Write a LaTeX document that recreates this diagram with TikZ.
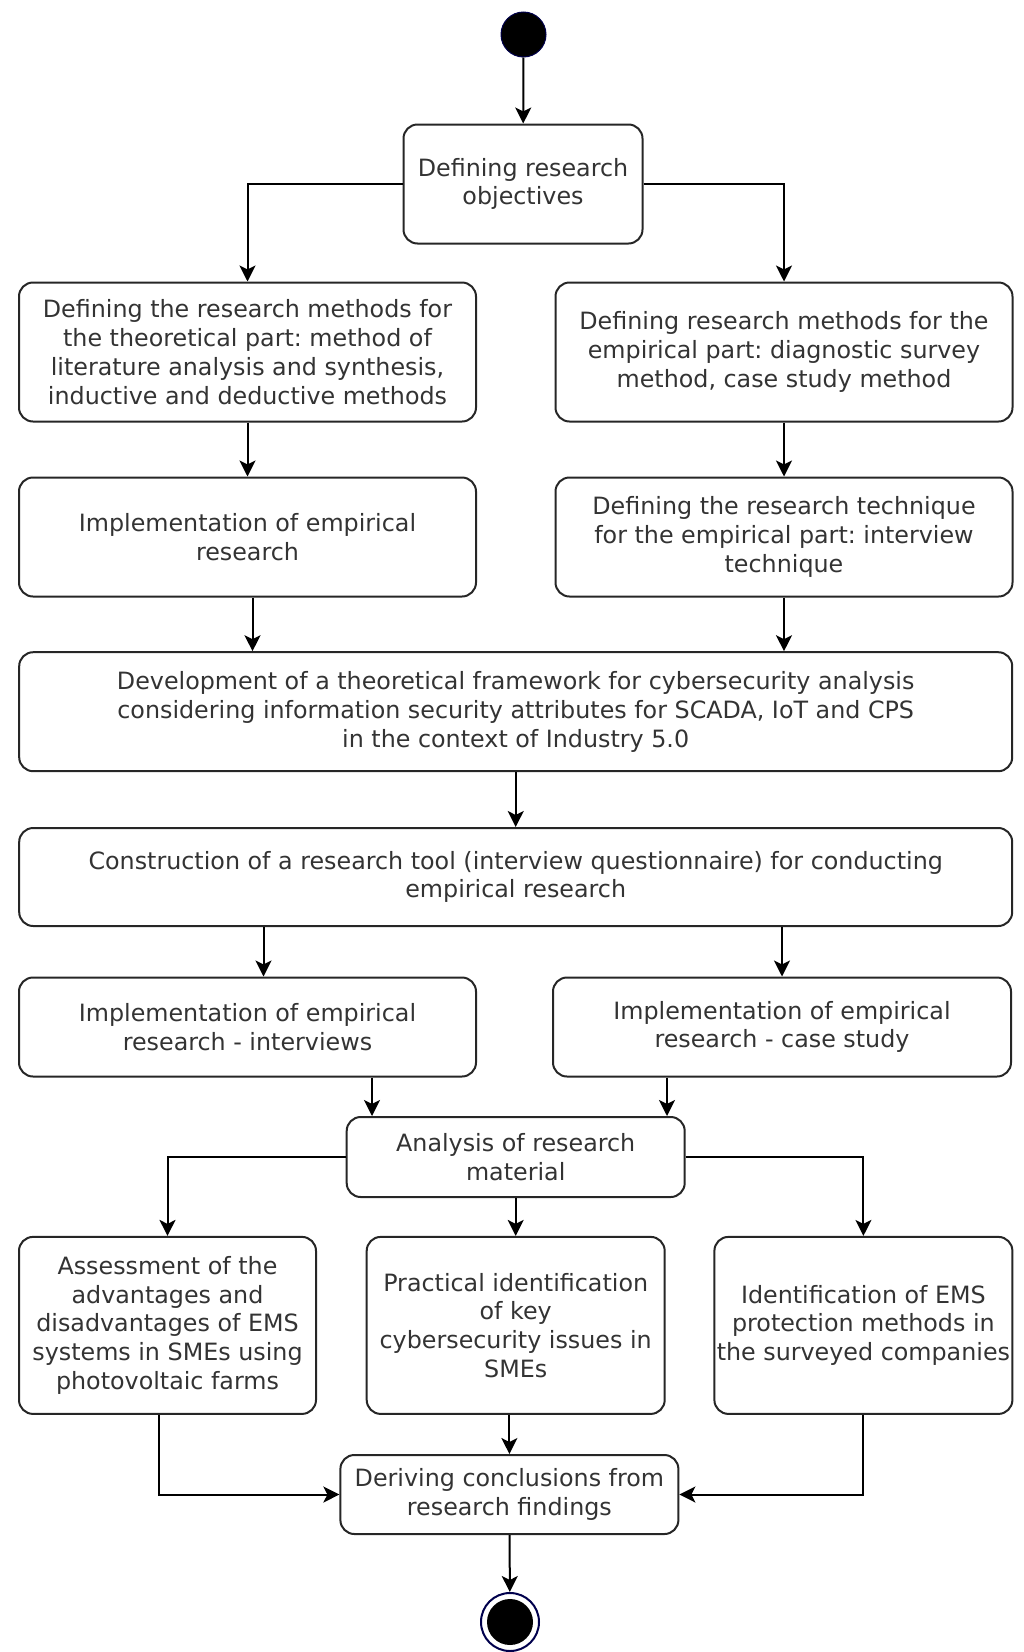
\documentclass[tikz,border=0pt]{standalone}
\usepackage{fontspec}
\setmainfont{DejaVu Sans}
\usetikzlibrary{arrows.meta,positioning,calc}
\frenchspacing

\begin{document}
\begin{tikzpicture}[x=1pt, y=-1pt,
    box/.style={draw=black!85, rectangle, rounded corners=14pt, line width=2pt, align=center, text=black!80, font=\fontsize{23.8}{28.8}\selectfont, inner sep=0pt},
    edge/.style={-{Stealth[length=16pt, width=16pt, inset=4pt]}, line width=2pt, draw=black},
    startstate/.style={circle, fill=black, draw=black!70!blue, line width=1pt, minimum size=45pt, inner sep=0pt},
    stopstate/.style={circle, draw=black!70!blue, line width=2pt, minimum size=58pt, inner sep=0pt,
        path picture={\fill[black] (path picture bounding box.center) circle (23pt);}},
]

\useasboundingbox (0,0) rectangle (1023,1652);

% Start
\node[startstate] (start) at (523.5, 34.5) {};

% Objectives
\node[box, minimum width=239pt, minimum height=119pt] (obj) at (523, 184) {Defining research\\objectives};

% Methods
\node[box, minimum width=457pt, minimum height=139pt] (lm1) at (247.5, 352) {Defining the research methods for\\the theoretical part: method of\\literature analysis and synthesis,\\inductive and deductive methods};
\node[box, minimum width=457pt, minimum height=139pt] (rm1) at (784, 352) {Defining research methods for the\\empirical part: diagnostic survey\\method, case study method};
\node[box, minimum width=457pt, minimum height=119pt] (lm2) at (247.5, 537) {Implementation of empirical\\research};
\node[box, minimum width=457pt, minimum height=119pt] (rm2) at (784, 537) {Defining the research technique\\for the empirical part: interview\\technique};

% Framework and tool
\node[box, minimum width=993pt, minimum height=119pt] (dev) at (515.7, 711.7) {Development of a theoretical framework for cybersecurity analysis\\considering information security attributes for SCADA, IoT and CPS\\in the context of Industry 5.0};
\node[box, minimum width=993pt, minimum height=98pt] (tool) at (515.7, 877) {Construction of a research tool (interview questionnaire) for conducting\\empirical research};

% Empirical research
\node[box, minimum width=457pt, minimum height=99pt] (li) at (247.5, 1027) {Implementation of empirical\\research - interviews};
\node[box, minimum width=458pt, minimum height=99pt] (rc) at (782, 1027) {Implementation of empirical\\research - case study};

% Analysis
\node[box, minimum width=338pt, minimum height=80pt] (ana) at (515.7, 1157) {Analysis of research\\material};

% Results
\node[box, minimum width=297pt, minimum height=177pt] (ea) at (167.5, 1325.4) {Assessment of the\\advantages and\\disadvantages of EMS\\systems in SMEs using\\photovoltaic farms};
\node[box, minimum width=298pt, minimum height=177pt] (pi) at (515.7, 1325.4) {Practical identification\\of key\\cybersecurity issues in\\SMEs};
\node[box, minimum width=298pt, minimum height=177pt] (em) at (863.4, 1325.4) {Identification of EMS\\protection methods in\\the surveyed companies};

% Conclusions
\node[box, minimum width=338pt, minimum height=79pt] (der) at (509.4, 1494.5) {Deriving conclusions from\\research findings};

% End
\node[stopstate] (stop) at (510, 1622) {};

\draw[edge] (start) -- (obj);
\draw[edge] (obj.west) -| (lm1.north);
\draw[edge] (obj.east) -| (rm1.north);
\draw[edge] (lm1) -- (lm2);
\draw[edge] (rm1) -- (rm2);
\draw[edge] ([xshift=5pt]lm2.south) -- ([xshift=5pt]lm2.south |- dev.north);
\draw[edge] (rm2.south) -- (rm2.south |- dev.north);
\draw[edge] (tool.north |- dev.south) -- (tool.north);
\draw[edge] ([xshift=16pt]li.north |- tool.south) -- ([xshift=16pt]li.north);
\draw[edge] (rc.north |- tool.south) -- (rc.north);
\draw[edge] ([xshift=124.5pt]li.south) -- ([xshift=124.5pt]li.south |- ana.north);
\draw[edge] ([xshift=-115pt]rc.south) -- ([xshift=-115pt]rc.south |- ana.north);
\draw[edge] (ana.west) -| (ea.north);
\draw[edge] (ana.east) -| (em.north);
\draw[edge] (ana) -- (pi);
\draw[edge] ([xshift=-9pt]ea.south) |- (der.west);
\draw[edge] (em.south) |- (der.east);
\draw[edge] (pi.south -| der.north) -- (der.north);
\draw[edge] (der) -- (stop);

\end{tikzpicture}
\end{document}
